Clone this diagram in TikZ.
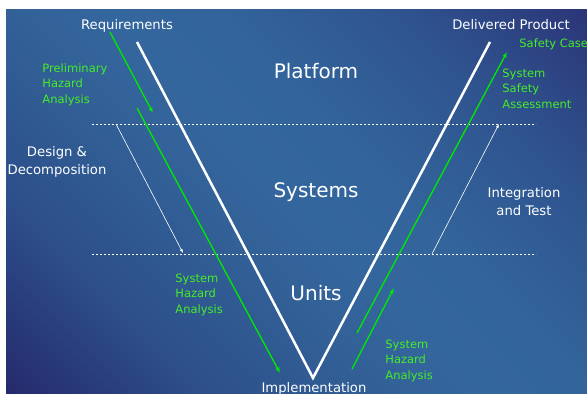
\documentclass[tikz,border=0pt]{standalone}
\usepackage{fontspec}
\setmainfont{DejaVu Sans}
\usetikzlibrary{arrows.meta}
\definecolor{vbgdark}{RGB}{37,41,108}
\definecolor{vbgmid}{RGB}{45,78,137}
\definecolor{vbglight}{RGB}{50,97,151}
\definecolor{vbgcentre}{RGB}{52,102,158}
\definecolor{vbglighter}{RGB}{51,101,156}
\definecolor{vbgfade}{RGB}{47,84,143}
\definecolor{vbgtop}{RGB}{43,53,120}
\definecolor{hzline}{RGB}{0,232,0}
\definecolor{hztext}{RGB}{68,238,40}
\pgfdeclarehorizontalshading{vbg}{100bp}{color(0bp)=(vbgdark); color(25bp)=(vbgdark); color(35bp)=(vbgmid); color(45bp)=(vbglight); color(50bp)=(vbgcentre); color(55bp)=(vbglighter); color(65bp)=(vbgfade); color(75bp)=(vbgtop); color(100bp)=(vbgtop)}
\newcommand{\vbigsize}{\fontsize{20}{24}\selectfont}
\newcommand{\vlabelsize}{\fontsize{13.2}{17.5}\selectfont}
\newcommand{\vgreensize}{\fontsize{11.5}{15.2}\selectfont}

\begin{document}
\begin{tikzpicture}[x=1pt,y=-1pt,style=thick]
	\useasboundingbox (0,0) rectangle (587,394);
	% background
	\begin{scope}
	\clip (6,9) rectangle (587,394);
	\shade[shading=vbg,transform canvas={rotate around={45:(296,201)}}] (-46,-141) rectangle (638,543);
	\end{scope}
	\tikzset{vline/.style={white,line width=2.5pt},
		levelline/.style={white!80,line width=0.7pt,dash pattern=on 2pt off 2pt},
		greenarrow/.style={hzline,line width=1.35pt,-{Latex[length=5.5pt,width=4.5pt]}},
		thinarrow/.style={white!75,line width=0.6pt,-{Latex[length=4pt,width=3pt]}}}
	% the V
	\coordinate (req_v) at (137,42);
	\coordinate (impl_v) at (313,378);
	\coordinate (prod_v) at (490,42);
	\draw [vline] (req_v) -- (impl_v) -- (prod_v);
	% level borders
	\coordinate (lvl1_l) at (92,124);
	\coordinate (lvl1_r) at (536,124);
	\coordinate (lvl2_l) at (92,254);
	\coordinate (lvl2_r) at (536,254);
	\draw [levelline] (lvl1_l) -- (lvl1_r);
	\draw [levelline] (lvl2_l) -- (lvl2_r);
	% green arrows
	\coordinate (pha_s) at (110,32);
	\coordinate (pha_e) at (153,113);
	\coordinate (sha_s) at (137,108);
	\coordinate (sha_e) at (280,373);
	\coordinate (ssa_s) at (357,333);
	\coordinate (ssa_e) at (507,52);
	\coordinate (shr_s) at (352,369);
	\coordinate (shr_e) at (394,288);
	\draw [greenarrow] (pha_s) -- (pha_e);
	\draw [greenarrow] (sha_s) -- (sha_e);
	\draw [greenarrow] (ssa_s) -- (ssa_e);
	\draw [greenarrow] (shr_s) -- (shr_e);
	% thin arrows
	\coordinate (dec_s) at (116,124);
	\coordinate (dec_e) at (183,253);
	\coordinate (int_s) at (432,254);
	\coordinate (int_e) at (499,124);
	\draw [thinarrow] (dec_s) -- (dec_e);
	\draw [thinarrow] (int_s) -- (int_e);
	\begin{scope}
	\tikzstyle{every node}=[inner sep=0pt]
	% white labels
	\node[white,font=\vlabelsize,anchor=base] (requirements) at (127,29) {Requirements};
	\node[white,font=\vlabelsize,anchor=base] (delivered) at (511,29) {Delivered Product};
	\node[white,font=\vlabelsize,anchor=base] (implementation) at (314,392) {Implementation};
	\node[white,font=\vlabelsize,anchor=base,align=center] (design) at (57,174) {Design \&\\Decomposition};
	\node[white,font=\vlabelsize,anchor=base,align=center] (integration) at (524,215) {Integration\\and Test};
	\node[white,font=\vbigsize,anchor=base] (platform) at (316,78) {Platform};
	\node[white,font=\vbigsize,anchor=base] (systems) at (316,197) {Systems};
	\node[white,font=\vbigsize,anchor=base] (units) at (316,300) {Units};
	% green labels
	\node[hztext,font=\vgreensize,anchor=base west] (safetycase) at (519,47) {Safety Case};
	\node[hztext,font=\vgreensize,anchor=base west,align=left] (ssa) at (502,108) {System\\Safety\\Assessment};
	\node[hztext,font=\vgreensize,anchor=base west,align=left] (pha) at (42,103) {Preliminary\\Hazard\\Analysis};
	\node[hztext,font=\vgreensize,anchor=base west,align=left] (sha_l) at (175,313) {System\\Hazard\\Analysis};
	\node[hztext,font=\vgreensize,anchor=base west,align=left] (sha_r) at (385,379) {System\\Hazard\\Analysis};
	\end{scope}
\end{tikzpicture}
\end{document}
